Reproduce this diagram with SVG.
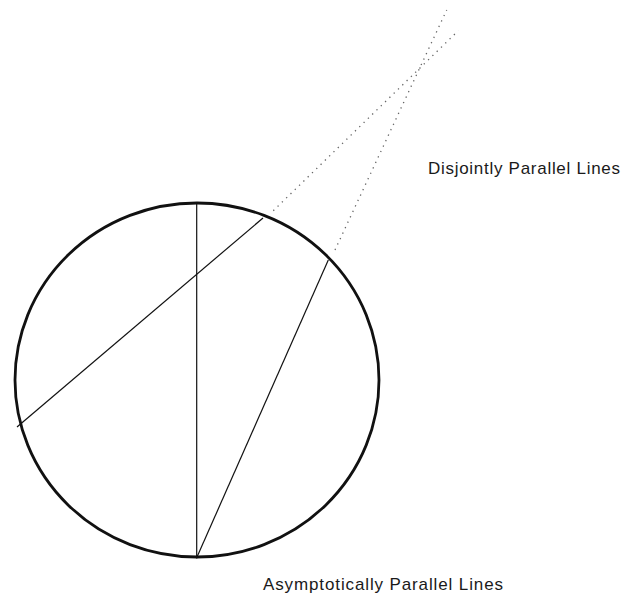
<svg xmlns="http://www.w3.org/2000/svg" width="626" height="599" viewBox="0 0 626 599">
<style>
.label{font-family:"Liberation Sans",Arial,sans-serif;font-size:17px;fill:#1a1a1a}
.solid{stroke:#111;stroke-width:1.2;fill:none}
.dotted{stroke:#666;stroke-width:1.3;fill:none;stroke-dasharray:1.3 4.7}
</style>
<rect width="626" height="599" fill="#fff"/>
<g id="disk">
<ellipse cx="197" cy="380" rx="182" ry="177" fill="none" stroke="#111" stroke-width="2.8"/>
</g>
<g id="connectors">
<line class="solid" x1="196.7" y1="203" x2="196.7" y2="558.5"/>
<line class="solid" x1="17" y1="427" x2="263" y2="218"/>
<line class="solid" x1="197" y1="557" x2="328.3" y2="260"/>
<line class="dotted" x1="273.3" y1="210.7" x2="458.3" y2="30.7"/>
<line class="dotted" x1="335" y1="250" x2="446.7" y2="10"/>
</g>
<g id="label-disjoint">
<text class="label" x="428" y="174" textLength="192" lengthAdjust="spacing">Disjointly Parallel Lines</text>
</g>
<g id="label-asymptotic">
<text class="label" x="263" y="590" textLength="240" lengthAdjust="spacing">Asymptotically Parallel Lines</text>
</g>
</svg>
